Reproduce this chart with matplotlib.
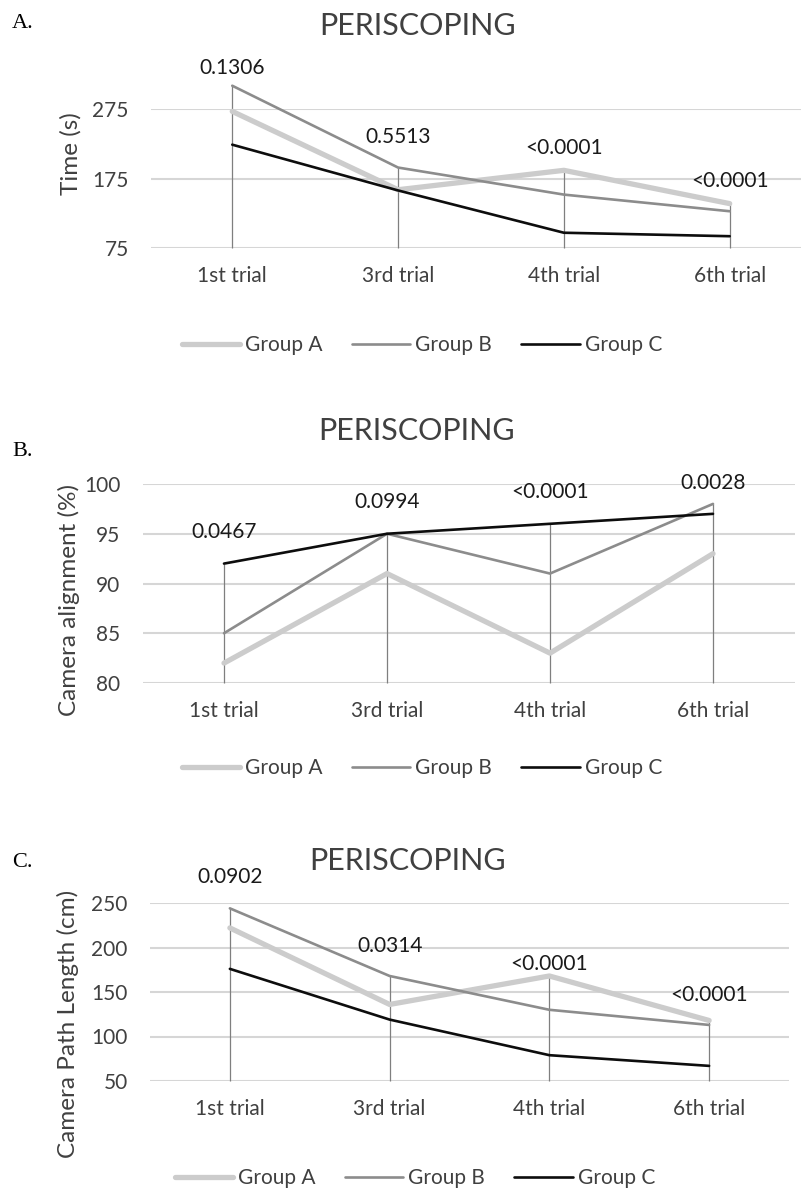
import matplotlib
matplotlib.use("Agg")
import matplotlib.pyplot as plt

# categories shared by all three panels
trials = ["1st trial", "3rd trial", "4th trial", "6th trial"]
groups = ["Group A", "Group B", "Group C"]

# panel A: time
time_a = [272, 159, 187, 139]
time_b = [309, 191, 152, 128]
time_c = [224, 158, 97, 92]
time_p = ["0.1306", "0.5513", "<0.0001", "<0.0001"]
time_p_y = [334, 235, 219, 171]

# panel B: camera alignment
align_a = [82, 91, 83, 93]
align_b = [85, 95, 91, 98]
align_c = [92, 95, 96, 97]
align_p = ["0.0467", "0.0994", "<0.0001", "0.0028"]
align_p_y = [95.2, 98.2, 99.2, 100.1]

# panel C: camera path length
path_a = [222, 136, 168, 118]
path_b = [244, 168, 130, 113]
path_c = [176, 119, 79, 67]
path_p = ["0.0902", "0.0314", "<0.0001", "<0.0001"]
path_p_y = [279, 202, 182, 147]

W, H = 801, 1191
FONT = "Lato"
TXT = "#404040"
colors = ["#cccccc", "#8c8c8c", "#0d0d0d"]
widths = [3.8, 1.9, 1.9]

fig = plt.figure(figsize=(W / 100, H / 100), dpi=100)


def px_axes(x0, x1, ybot, ytop):
    return fig.add_axes([x0 / W, 1 - ybot / H, (x1 - x0) / W, (ybot - ytop) / H])


def panel(ax, series, pvals, py, ylim, yticks, xlim, letter, title, title_xy,
          letter_y, ylabel, ylabel_xy, legend_xy):
    x = range(len(trials))
    ax.set_xlim(*xlim)
    ax.set_ylim(*ylim)
    ax.set_yticks(yticks)
    ax.set_xticks(list(x))
    ax.set_xticklabels(trials)
    for s in ax.spines.values():
        s.set_visible(False)
    ax.yaxis.grid(True, color="#d6d6d6", lw=1.5)
    ax.set_axisbelow(True)
    ax.tick_params(length=0, labelsize=15, labelcolor=TXT)
    ax.tick_params(axis="x", pad=13)
    ax.tick_params(axis="y", pad=16)
    for lab in ax.get_xticklabels() + ax.get_yticklabels():
        lab.set_family(FONT)

    # drop lines from the highest point to the category axis
    tops = [max(v) for v in zip(*series)]
    ax.vlines(list(x), ylim[0], tops, color="#7f7f7f", lw=0.9, zorder=2,
              clip_on=False)
    handles = []
    for vals, name, c, lw in zip(series, groups, colors, widths):
        ln, = ax.plot(list(x), vals, color=c, lw=lw, label=name, zorder=3,
                      clip_on=False, solid_capstyle="round")
        handles.append(ln)
    for xi, t, yi in zip(x, pvals, py):
        ax.text(xi, yi, t, ha="center", va="center", fontsize=15, color="#1a1a1a",
                family=FONT, zorder=4)

    fig.text(title_xy[0] / W, 1 - title_xy[1] / H, title, ha="center",
             va="center", fontsize=22, color=TXT, family=FONT)
    fig.text(12 / W, 1 - letter_y / H, letter, ha="left", va="baseline",
             fontsize=16, family="Liberation Serif", color="black")
    fig.text(ylabel_xy[0] / W, 1 - ylabel_xy[1] / H, ylabel, rotation=90,
             ha="center", va="center", fontsize=17.5, color=TXT, family=FONT)
    leg = ax.legend(handles=handles, loc="center", ncol=3, frameon=False,
                    bbox_to_anchor=(legend_xy[0] / W, 1 - legend_xy[1] / H),
                    bbox_transform=fig.transFigure, handlelength=2.8,
                    handletextpad=0.25, columnspacing=1.4,
                    prop={"family": FONT, "size": 15})
    for t in leg.get_texts():
        t.set_color(TXT)


ax1 = px_axes(151, 801, 248, 109.3)
panel(ax1, [time_a, time_b, time_c], time_p, time_p_y, (75, 275), [75, 175, 275],
      (-0.49, 3.43), "A.", "PERISCOPING", (418, 26), 28, "Time (s)", (71, 154),
      (422, 345))

ax2 = px_axes(142.5, 794.5, 683, 484)
panel(ax2, [align_a, align_b, align_c], align_p, align_p_y, (80, 100),
      [80, 85, 90, 95, 100], (-0.5, 3.5), "B.", "PERISCOPING", (417, 431), 456,
      "Camera alignment (%)", (69, 600), (422, 768))

ax3 = px_axes(150, 789, 1081, 903)
panel(ax3, [path_a, path_b, path_c], path_p, path_p_y, (50, 250),
      [50, 100, 150, 200, 250], (-0.5, 3.5), "C.", "PERISCOPING", (408, 861), 867,
      "Camera Path Length (cm)", (68, 1024), (415, 1178))

fig.savefig("out.png", dpi=100)
